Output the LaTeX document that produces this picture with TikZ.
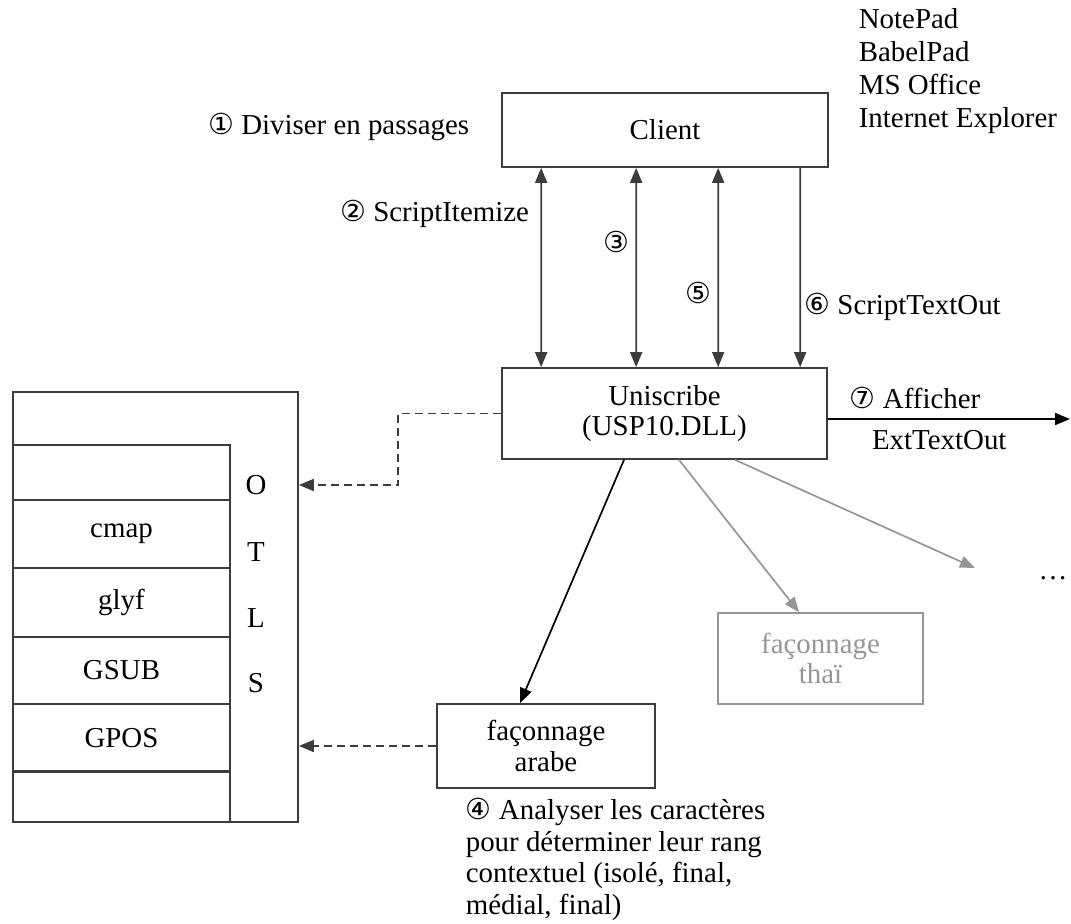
\documentclass[tikz,border=0pt]{standalone}
\usepackage{fontspec}
\setmainfont{Liberation Serif}
\newfontfamily\circfont{DejaVu Sans}
\usepackage{tikz}
\usetikzlibrary{arrows.meta,shapes}
\definecolor{shadegray}{RGB}{150,150,150}
\definecolor{linegray}{RGB}{60,60,60}
\newcommand{\cnum}[1]{{\circfont\fontsize{29}{31}\selectfont #1}}

\begin{document}
\begin{tikzpicture}[
  font=\fontsize{29}{33}\selectfont,
  line width=1.7bp,
  box/.style={draw=linegray,rectangle,inner sep=0bp,align=center,font=\fontsize{29}{31}\selectfont},
  tip/.style={-{Triangle[length=15bp,width=12bp]}},
  dbltip/.style={{Triangle[length=15bp,width=12bp]}-{Triangle[length=15bp,width=12bp]}},
  dashtip/.style={tip,dash pattern=on 8bp off 5bp},
  faded/.style={draw=shadegray,text=shadegray}
]
\useasboundingbox (0bp,0bp) rectangle (1071bp,-924bp);

\node (client) at (665bp,-130bp)[box,minimum width=326bp,minimum height=74bp] {Client};
\node (uni) at (664.5bp,-413.5bp)[box,minimum width=325bp,minimum height=91bp] {Uniscribe\\(USP10.DLL)};
\node (arabe) at (546bp,-746bp)[box,minimum width=218bp,minimum height=84bp] {façonnage\\arabe};
\node (thai) at (820.5bp,-658.5bp)[box,faded,minimum width=205bp,minimum height=91bp] {façonnage\\thaï};

% table OTLS
\node (otls) at (155.5bp,-607bp)[box,minimum width=285bp,minimum height=430bp] {};
\node (row1) at (121.5bp,-472.5bp)[box,minimum width=217bp,minimum height=55bp] {};
\node (cmap) at (121.5bp,-534bp)[box,minimum width=217bp,minimum height=68bp] {cmap};
\node (glyf) at (121.5bp,-602.5bp)[box,minimum width=217bp,minimum height=69bp] {glyf};
\node (gsub) at (121.5bp,-670.5bp)[box,minimum width=217bp,minimum height=67bp] {GSUB};
\node (gpos) at (121.5bp,-738bp)[box,minimum width=217bp,minimum height=68bp] {GPOS};
\node (row6) at (121.5bp,-796.5bp)[box,minimum width=217bp,minimum height=51bp] {};
\node (lO) at (256bp,-485bp) {O};
\node (lT) at (256bp,-552bp) {T};
\node (lL) at (256bp,-618bp) {L};
\node (lS) at (256bp,-683bp) {S};

% textes
\node (step1) at (470bp,-127bp)[anchor=east,inner sep=0bp] {\cnum{①} Diviser en passages};
\node (apps) at (858bp,-8bp)[anchor=north west,inner sep=0bp,align=left] {NotePad\\BabelPad\\MS Office\\Internet Explorer};
\node (step4) at (465bp,-797bp)[anchor=north west,inner sep=0bp,align=left,font=\fontsize{29}{32}\selectfont] {\cnum{④} Analyser les caractères\\pour déterminer leur rang\\contextuel (isolé, final,\\médial, final)};

% appels
\draw [dbltip,linegray] ([xshift=40bp]client.south west) to node[pos=0.23,left=8bp,black] {\cnum{②} ScriptItemize} ([xshift=40bp]uni.north west);
\draw [dbltip,linegray] ([xshift=135bp]client.south west) to node[pos=0.37,left=3bp,black] {\cnum{③}} ([xshift=135bp]uni.north west);
\draw [dbltip,linegray] ([xshift=217bp]client.south west) to node[pos=0.63,left=3bp,black] {\cnum{⑤}} ([xshift=217bp]uni.north west);
\draw [tip,linegray] ([xshift=299bp]client.south west) to node[pos=0.70,right=0bp,black] {\cnum{⑥} ScriptTextOut} ([xshift=299bp]uni.north west);

\coordinate (out) at (1070bp,-419bp);
\draw [tip] (uni.east |- out) to node[pos=0.36,above=6bp] {\cnum{⑦} Afficher} node[pos=0.46,below=7bp] {ExtTextOut} (out);

\draw [dashtip,linegray] (uni.west) -- ++(-103bp,0bp) |- (otls.east |- lO);
\draw [dashtip,linegray] (arabe.west) -- (arabe.west -| otls.east);

\draw [tip] ([xshift=-40.5bp]uni.south) -- ([xshift=-26bp]arabe.north);
\draw [tip,shadegray] ([xshift=14.5bp]uni.south) -- ([xshift=-21.5bp]thai.north);
\coordinate (more) at (975bp,-568bp);
\draw [tip,shadegray] ([xshift=70.5bp]uni.south) -- (more);
\node (dots) at (1053bp,-578bp) {\ldots};
\end{tikzpicture}
\end{document}
